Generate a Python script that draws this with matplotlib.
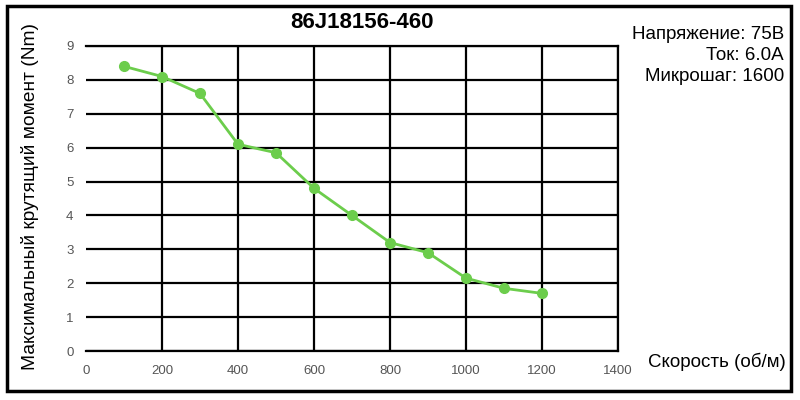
import numpy as np
import matplotlib.pyplot as plt
from matplotlib.patches import Rectangle

# data
speed = [100, 200, 300, 400, 500, 600, 700, 800, 900, 1000, 1100, 1200]
torque = [8.4, 8.1, 7.6, 6.1, 5.85, 4.8, 4.0, 3.2, 2.9, 2.15, 1.85, 1.7]
x_ticks = [0, 200, 400, 600, 800, 1000, 1200, 1400]
y_ticks = [0, 1, 2, 3, 4, 5, 6, 7, 8, 9]

plt.rcParams['font.family'] = ['Liberation Sans', 'DejaVu Sans']

fig = plt.figure(figsize=(8, 4), dpi=100)
ax = fig.add_axes([0.1075, 0.1225, 0.665, 0.7625])

ax.plot(speed, torque, color='#6ccd4c', lw=2, marker='o', ms=7, zorder=3)

ax.set_xlim(0, 1400)
ax.set_ylim(0, 9)
ax.set_xticks(x_ticks)
ax.set_yticks(y_ticks)
ax.grid(True, color='black', lw=1.6)
ax.set_axisbelow(True)
for s in ['top', 'right']:
    ax.spines[s].set_linewidth(1.6)
ax.spines['left'].set_visible(False)
ax.spines['bottom'].set_linewidth(1.6)
ax.tick_params(length=0, labelsize=9.5, colors='#555555', pad=10)
ax.tick_params(axis='y', pad=9)
# no vertical line at 0 in the reference
ax.get_xgridlines()[0].set_visible(False)

fig.text(0.4525, 0.945, '86J18156-460', ha='center', va='center',
         fontsize=16, fontweight='bold')
fig.text(0.98, 0.862, 'Напряжение: 75В\nТок: 6.0А\nМикрошаг: 1600',
         ha='right', va='center', fontsize=13.5, linespacing=1.32)
fig.text(0.038, 0.51, 'Максимальный крутящий момент (Nm)', rotation=90,
         ha='center', va='center', fontsize=13.8)
fig.text(0.982, 0.095, 'Скорость (об/м)', ha='right', va='center', fontsize=13.5)

fig.add_artist(Rectangle((0.009, 0.022), 0.98, 0.963, transform=fig.transFigure,
                         fill=False, lw=2.5, edgecolor='black'))

fig.savefig('out.png', dpi=100)
